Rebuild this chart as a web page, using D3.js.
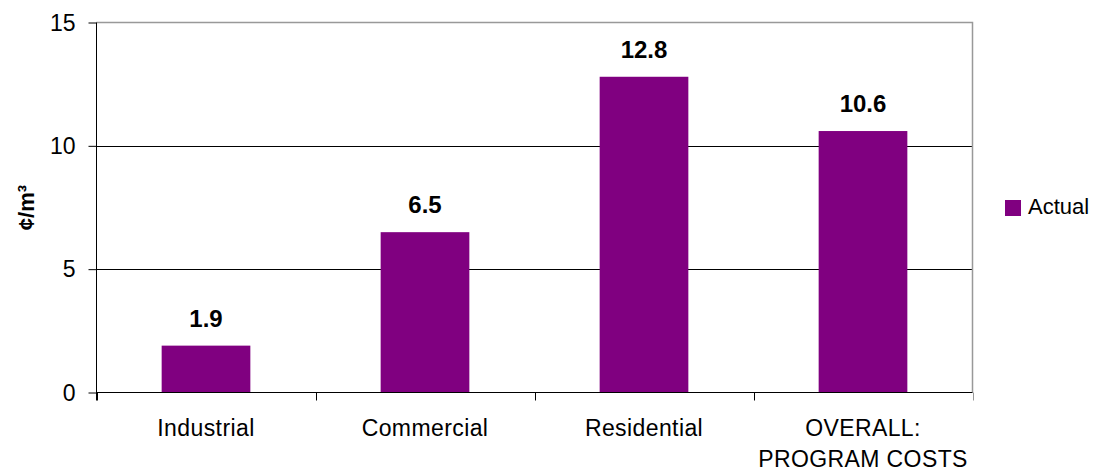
<!DOCTYPE html>
<html>
<head>
<meta charset="utf-8">
<script src="https://cdn.jsdelivr.net/npm/d3@7"></script>
<style>
  html, body { margin: 0; padding: 0; background: #fff; }
  svg { display: block; font-family: "Liberation Sans", Arial, sans-serif; }
</style>
</head>
<body>
<svg id="chart" width="1098" height="474"></svg>
<script>
// Cost per cubic metre by sector
const categories = ["Industrial", "Commercial", "Residential", "OVERALL:\nPROGRAM COSTS"];
const actualValues = [1.9, 6.5, 12.8, 10.6];
const yTicks = [0, 5, 10, 15];
const seriesName = "Actual";
const yTitle = "¢/m³";

const svg = d3.select("#chart");
const plot = { left: 96.5, right: 972.5, top: 22.5, bottom: 392.5 };
const barColor = "#800080";
const fontFamily = "Liberation Sans, Arial, sans-serif";

const x = d3.scaleBand()
  .domain(categories)
  .range([plot.left, plot.right])
  .paddingInner(0.595)
  .paddingOuter(0.2975);

const y = d3.scaleLinear().domain([0, 15]).range([plot.bottom, plot.top]);

// Horizontal gridlines
svg.append("g")
  .selectAll("line")
  .data(yTicks.filter(d => d > 0 && d < 15))
  .join("line")
  .attr("x1", plot.left).attr("x2", plot.right)
  .attr("y1", d => Math.round(y(d)) + 0.5).attr("y2", d => Math.round(y(d)) + 0.5)
  .attr("stroke", "#000").attr("stroke-width", 1);

// Plot frame (top and right in grey)
svg.append("path")
  .attr("d", `M${plot.left},${plot.top}H${plot.right}V${plot.bottom}`)
  .attr("fill", "none").attr("stroke", "#999").attr("stroke-width", 1.5);

// Bars
svg.append("g")
  .selectAll("rect")
  .data(categories.map((c, i) => ({ c, v: actualValues[i] })))
  .join("rect")
  .attr("x", d => x(d.c))
  .attr("width", x.bandwidth())
  .attr("y", d => y(d.v))
  .attr("height", d => y(0) - y(d.v))
  .attr("fill", barColor);

// Value labels
svg.append("g")
  .selectAll("text")
  .data(categories.map((c, i) => ({ c, v: actualValues[i] })))
  .join("text")
  .attr("x", d => x(d.c) + x.bandwidth() / 2)
  .attr("y", d => y(d.v) - 19)
  .attr("text-anchor", "middle")
  .attr("font-size", 24)
  .attr("font-weight", "bold")
  .attr("fill", "#000")
  .text(d => d.v.toFixed(1));

// Y axis
const yAxis = d3.axisLeft(y).tickValues(yTicks).tickSize(8).tickPadding(13).tickFormat(d3.format("d"));
const yg = svg.append("g").attr("transform", `translate(${plot.left},0)`).call(yAxis);
yg.attr("font-family", fontFamily).attr("font-size", 23);
yg.select(".domain").attr("stroke", "#000").attr("d", `M0,${plot.top}V${plot.bottom + 8}`);
yg.selectAll(".tick line").attr("stroke", "#000");
yg.selectAll(".tick text").attr("fill", "#000").attr("dy", "0.34em");

// X axis: baseline with tick marks at category boundaries
const boundaries = d3.range(categories.length + 1).map(i => plot.left + i * x.step());
svg.append("line")
  .attr("x1", plot.left).attr("x2", plot.right)
  .attr("y1", plot.bottom).attr("y2", plot.bottom)
  .attr("stroke", "#000");
svg.append("g")
  .selectAll("line")
  .data(boundaries)
  .join("line")
  .attr("x1", d => Math.round(d) + 0.5).attr("x2", d => Math.round(d) + 0.5)
  .attr("y1", plot.bottom).attr("y2", plot.bottom + 8)
  .attr("stroke", (d, i) => i === boundaries.length - 1 ? "#999" : "#000");

// Category labels (multi-line)
const catLabels = svg.append("g")
  .selectAll("text")
  .data(categories)
  .join("text")
  .attr("x", d => x(d) + x.bandwidth() / 2)
  .attr("y", 436)
  .attr("text-anchor", "middle")
  .attr("font-size", 23)
  .attr("letter-spacing", 0.4)
  .attr("fill", "#000");
catLabels.each(function (d) {
  const lines = d.split("\n");
  d3.select(this).selectAll("tspan")
    .data(lines)
    .join("tspan")
    .attr("x", x(d) + x.bandwidth() / 2)
    .attr("dy", (l, i) => i === 0 ? 0 : 30.5)
    .text(l => l);
});

// Y axis title
svg.append("text")
  .attr("transform", `translate(34,${(plot.top + plot.bottom) / 2}) rotate(-90)`)
  .attr("text-anchor", "middle")
  .attr("font-size", 22)
  .attr("font-weight", "bold")
  .attr("fill", "#000")
  .text(yTitle);

// Legend
const legend = svg.append("g").attr("transform", "translate(1005,200)");
legend.append("rect").attr("width", 16).attr("height", 16).attr("fill", barColor);
legend.append("text").attr("x", 23).attr("y", 14).attr("font-size", 22).attr("fill", "#000").text(seriesName);
</script>
</body>
</html>
